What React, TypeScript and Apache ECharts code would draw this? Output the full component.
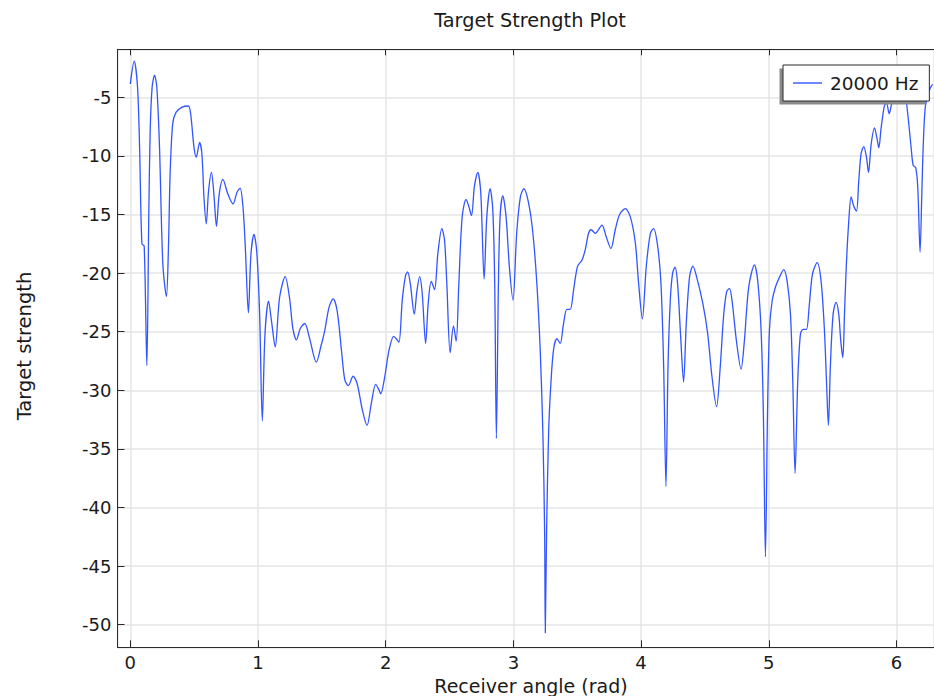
import { useEffect, useRef } from "react";
import * as echarts from "echarts";

const chartTitle = "Target Strength Plot";
const xAxisTitle = "Receiver angle (rad)";
const yAxisTitle = "Target strength";
const seriesName = "20000 Hz";

// Receiver angle (rad)
const angle = [
  0.0, 0.031, 0.057, 0.073, 0.091, 0.109, 0.13, 0.145, 0.156, 0.171,
  0.19, 0.208, 0.229, 0.255, 0.283, 0.299, 0.312, 0.332, 0.358, 0.403,
  0.455, 0.473, 0.499, 0.517, 0.543, 0.561, 0.577, 0.595, 0.613, 0.636,
  0.655, 0.675, 0.696, 0.725, 0.766, 0.805, 0.836, 0.86, 0.883, 0.901,
  0.925, 0.945, 0.969, 0.99, 1.013, 1.034, 1.055, 1.083, 1.106, 1.135,
  1.169, 1.213, 1.247, 1.273, 1.301, 1.332, 1.366, 1.403, 1.457, 1.494,
  1.523, 1.557, 1.589, 1.62, 1.654, 1.68, 1.708, 1.745, 1.776, 1.818,
  1.854, 1.888, 1.922, 1.945, 1.961, 1.992, 2.026, 2.063, 2.083, 2.104,
  2.13, 2.156, 2.172, 2.193, 2.224, 2.245, 2.266, 2.286, 2.313, 2.333,
  2.357, 2.383, 2.409, 2.44, 2.461, 2.479, 2.505, 2.531, 2.552, 2.573,
  2.599, 2.63, 2.651, 2.672, 2.695, 2.721, 2.745, 2.771, 2.792, 2.818,
  2.839, 2.854, 2.867, 2.883, 2.896, 2.917, 2.943, 2.969, 2.997, 3.026,
  3.055, 3.082, 3.119, 3.153, 3.184, 3.21, 3.231, 3.245, 3.25, 3.26,
  3.276, 3.294, 3.315, 3.341, 3.367, 3.393, 3.419, 3.445, 3.472, 3.503,
  3.537, 3.563, 3.589, 3.61, 3.641, 3.694, 3.727, 3.764, 3.798, 3.832,
  3.877, 3.916, 3.955, 3.981, 4.01, 4.041, 4.073, 4.098, 4.13, 4.156,
  4.177, 4.195, 4.211, 4.229, 4.247, 4.266, 4.286, 4.31, 4.333, 4.354,
  4.38, 4.406, 4.437, 4.484, 4.521, 4.555, 4.591, 4.62, 4.646, 4.67,
  4.692, 4.713, 4.747, 4.783, 4.809, 4.843, 4.888, 4.914, 4.94, 4.958,
  4.974, 4.99, 5.005, 5.026, 5.052, 5.086, 5.117, 5.144, 5.17, 5.188,
  5.206, 5.227, 5.248, 5.269, 5.295, 5.316, 5.342, 5.379, 5.41, 5.436,
  5.452, 5.467, 5.483, 5.504, 5.527, 5.548, 5.564, 5.58, 5.593, 5.608,
  5.627, 5.645, 5.666, 5.687, 5.705, 5.723, 5.744, 5.765, 5.781, 5.802,
  5.828, 5.846, 5.862, 5.88, 5.906, 5.922, 5.943, 5.961, 5.979, 6.0,
  6.025, 6.055, 6.078, 6.097, 6.115, 6.131, 6.151, 6.167, 6.185, 6.198,
  6.209, 6.225, 6.245, 6.265, 6.283,
];

// Target strength (dB)
const strength = [
  -3.86, -1.92, -4.15, -9.27, -17.5, -17.7, -27.9, -15.0, -7.85, -4.15,
  -3.12, -4.15, -9.27, -19.2, -22.0, -17.8, -11.55, -7.28, -6.28, -5.85,
  -5.74, -6.42, -9.27, -10.1, -8.85, -9.84, -13.5, -15.8, -13.0, -11.4,
  -13.3, -16.0, -13.3, -12.0, -13.3, -14.1, -13.1, -12.75, -14.4, -17.8,
  -23.4, -18.4, -16.7, -18.1, -23.5, -32.6, -25.2, -22.4, -24.1, -26.3,
  -22.1, -20.3, -22.1, -24.7, -25.7, -24.7, -24.3, -25.5, -27.6, -26.2,
  -24.9, -22.9, -22.2, -23.2, -26.6, -29.1, -29.6, -28.8, -29.4, -31.7,
  -33.0, -31.1, -29.5, -29.9, -30.3, -28.9, -26.6, -25.4, -25.6, -25.9,
  -22.3, -20.2, -19.9, -20.9, -23.5, -21.5, -20.3, -21.7, -26.0, -22.6,
  -20.7, -21.4, -18.3, -16.2, -17.2, -20.9, -26.8, -24.5, -25.8, -20.9,
  -15.2, -13.7, -14.3, -15.1, -12.6, -11.4, -13.2, -20.5, -15.2, -12.8,
  -14.6, -20.9, -34.1, -20.9, -15.2, -13.4, -15.2, -19.5, -22.3, -16.6,
  -13.5, -12.8, -14.0, -16.6, -20.9, -26.5, -33.6, -42.2, -50.7, -42.2,
  -33.6, -29.4, -26.5, -25.6, -26.0, -24.3, -23.1, -23.1, -21.4, -19.4,
  -18.9, -18.0, -16.6, -16.3, -16.6, -15.9, -16.9, -17.9, -16.3, -15.0,
  -14.5, -15.2, -17.4, -20.9, -23.9, -19.4, -16.6, -16.2, -17.7, -20.9,
  -28.0, -38.2, -28.0, -22.3, -20.0, -19.5, -20.9, -25.4, -29.3, -24.3,
  -20.3, -19.4, -20.4, -22.6, -25.1, -28.8, -31.4, -28.0, -23.7, -21.6,
  -21.3, -22.4, -25.8, -28.2, -25.8, -21.2, -19.3, -20.7, -24.9, -32.1,
  -44.2, -32.1, -24.9, -22.4, -21.2, -20.3, -19.7, -20.7, -23.5, -29.2,
  -37.1, -29.2, -25.2, -24.8, -24.8, -22.9, -20.1, -19.1, -20.7, -24.9,
  -29.2, -33.0, -27.8, -23.5, -22.5, -23.5, -25.8, -27.2, -23.5, -19.2,
  -15.5, -13.5, -14.3, -14.7, -12.1, -9.8, -9.2, -10.1, -11.4, -9.0,
  -7.6, -8.4, -9.3, -7.6, -5.7, -5.5, -6.4, -5.6, -4.7, -3.4,
  -2.8, -3.6, -5.4, -7.3, -9.3, -10.8, -11.0, -12.7, -18.2, -13.5,
  -9.3, -5.9, -4.9, -4.2, -3.9,
];

const FONT = "DejaVu Sans";
const TEXT = "#1a1a1a";
const AXIS = "#2b2b2b";
const GRID = "#e6e6e6";
const LINE = "#3355ff";

export default function App() {
  const ref = useRef<HTMLDivElement>(null);

  useEffect(() => {
    if (!ref.current) return;
    const chart = echarts.init(ref.current, null, { renderer: "svg" });

    const xCommon = {
      type: "value" as const,
      min: -0.1,
      max: 6.294,
      splitNumber: 6,
      minInterval: 1,
      maxInterval: 1,
      axisLine: { show: true, onZero: false, lineStyle: { color: AXIS, width: 1 } },
    };

    chart.setOption({
      animation: false,
      backgroundColor: "#ffffff",
      grid: { left: 117.5, top: 49.3, right: 0, bottom: 48.7, containLabel: false },
      xAxis: [
        {
          ...xCommon,
          position: "bottom",
          axisTick: { show: true, inside: true, length: 7, lineStyle: { color: AXIS } },
          axisLabel: {
            showMinLabel: false,
            showMaxLabel: false,
            margin: 6,
            fontSize: 18,
            fontFamily: FONT,
            color: TEXT,
          },
          splitLine: { show: true, lineStyle: { color: GRID, width: 1.5 } },
        },
        {
          ...xCommon,
          position: "top",
          axisTick: { show: true, inside: true, length: 6, lineStyle: { color: AXIS } },
          axisLabel: { show: false },
          splitLine: { show: false },
        },
      ],
      yAxis: [
        {
          type: "value",
          min: -51.93,
          max: -0.9,
          splitNumber: 10,
          minInterval: 5,
          maxInterval: 5,
          position: "left",
          axisLine: { show: true, onZero: false, lineStyle: { color: AXIS, width: 1 } },
          axisTick: { show: true, inside: true, length: 7, lineStyle: { color: AXIS } },
          axisLabel: {
            showMinLabel: false,
            showMaxLabel: false,
            margin: 6,
            fontSize: 18,
            fontFamily: FONT,
            color: TEXT,
          },
          splitLine: { show: true, lineStyle: { color: GRID, width: 1.5 } },
        },
      ],
      legend: {
        data: [seriesName],
        left: 783,
        top: 65,
        orient: "horizontal",
        icon: "rect",
        backgroundColor: "#ffffff",
        borderColor: AXIS,
        borderWidth: 1,
        borderRadius: 0,
        padding: [8, 11, 8, 10],
        itemWidth: 29,
        itemHeight: 1.4,
        itemGap: 0,
        z: 10,
        textStyle: { fontSize: 18.5, fontFamily: FONT, color: TEXT, lineHeight: 20, padding: [0, 0, 0, 3] },
      },
      graphic: [
        {
          type: "rect",
          z: 9,
          shape: { x: 779.5, y: 68.5, width: 146.5, height: 36 },
          style: { fill: "#8c8c8c" },
        },
        {
          type: "text",
          x: 530,
          y: 20,
          style: {
            text: chartTitle,
            fontSize: 19.3,
            fontFamily: FONT,
            fill: TEXT,
            align: "center",
            verticalAlign: "middle",
          },
        },
        {
          type: "text",
          x: 531,
          y: 686,
          style: {
            text: xAxisTitle,
            fontSize: 19,
            fontFamily: FONT,
            fill: TEXT,
            align: "center",
            verticalAlign: "middle",
          },
        },
        {
          type: "text",
          x: 24,
          y: 346,
          rotation: Math.PI / 2,
          style: {
            text: yAxisTitle,
            fontSize: 19.5,
            fontFamily: FONT,
            fill: TEXT,
            align: "center",
            verticalAlign: "middle",
          },
        },
      ],
      series: [
        {
          name: seriesName,
          type: "line",
          xAxisIndex: 0,
          yAxisIndex: 0,
          symbol: "none",
          smooth: 0.3,
          data: angle.map((a, i) => [a, strength[i]]),
          lineStyle: { color: LINE, width: 1.3 },
          itemStyle: { color: LINE },
          z: 2,
        },
      ],
    });

    return () => chart.dispose();
  }, []);

  return (
    <div
      ref={ref}
      style={{ position: "absolute", left: 0, top: 0, width: 934, height: 696 }}
    />
  );
}
